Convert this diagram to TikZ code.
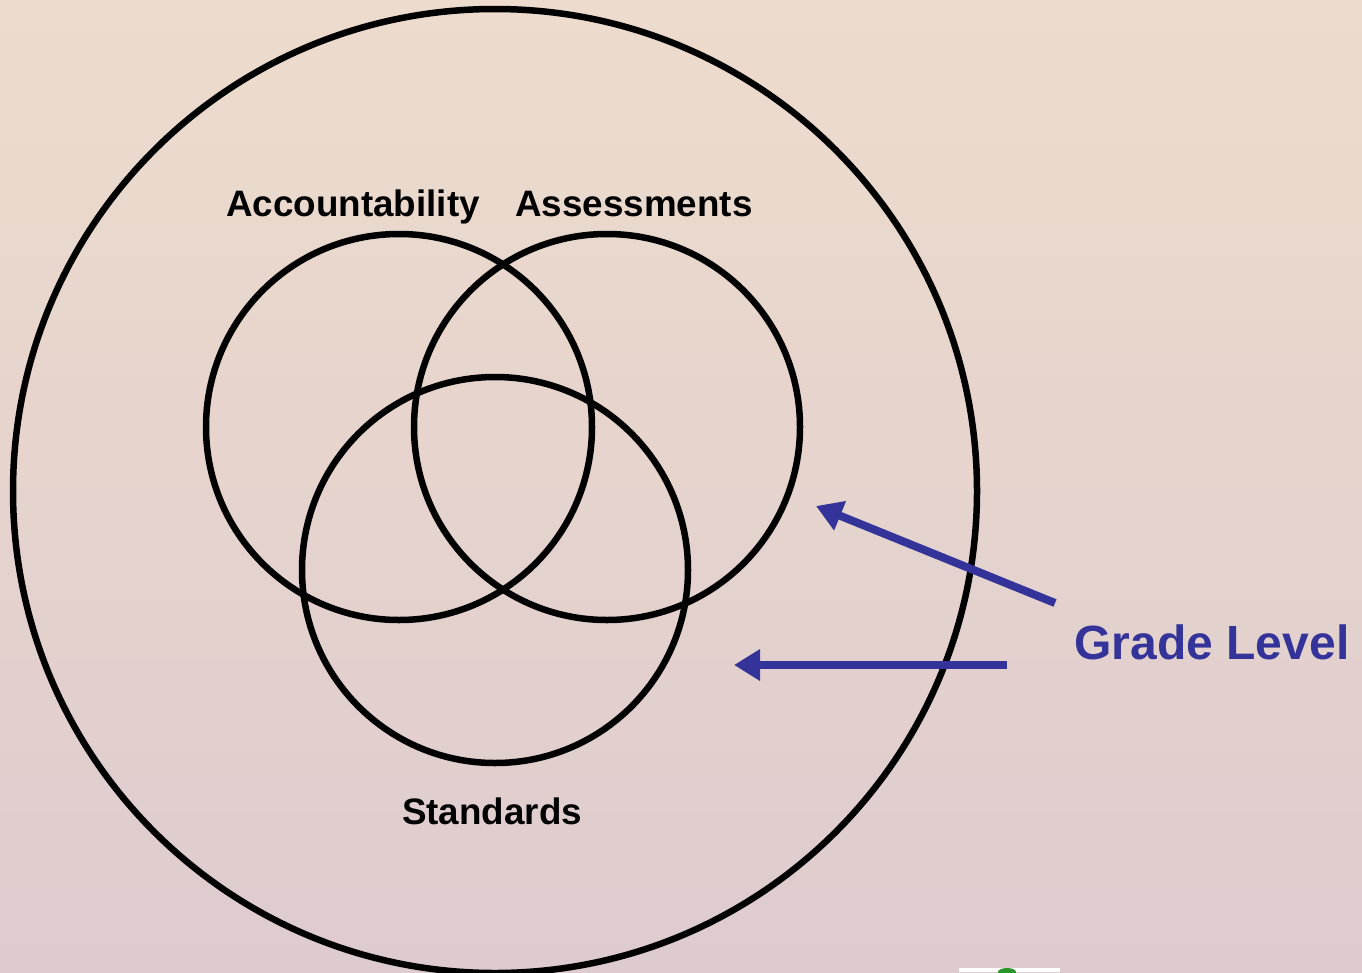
\documentclass[tikz,border=0pt]{standalone}
\usepackage{fontspec}
\setmainfont{Liberation Sans}
\usetikzlibrary{arrows.meta}
\definecolor{bgtop}{RGB}{237,220,205}
\definecolor{bgbot}{RGB}{222,203,206}
\definecolor{arrowblue}{RGB}{51,51,153}
\definecolor{logogreen}{RGB}{40,150,40}
\tikzset{
  ring/.style={draw=black,line width=6.5pt,circle,inner sep=0pt,minimum size=#1},
  label/.style={font=\bfseries\fontsize{36.8}{40}\selectfont,anchor=base,inner sep=0pt},
  bigtext/.style={font=\bfseries\fontsize{48}{52}\selectfont,anchor=base,inner sep=0pt,text=arrowblue},
  pointer/.style={draw=arrowblue,line width=8pt,-{Triangle[length=26pt,width=30pt]}}
}
\begin{document}
\begin{tikzpicture}[x=1pt,y=-1pt]
\useasboundingbox (0,0) rectangle (1362,972);
\shade[top color=bgtop,bottom color=bgbot] (0,0) rectangle (1362,972);
% small cut-off logo at bottom edge
\fill[white] (959,968) rectangle (1060,972);
\fill[logogreen] (1007,972) ellipse [x radius=9pt,y radius=4pt];
\node[ring=964pt] (outer) at (495,491) {};
\node[ring=386pt] (acc) at (399,427) {};
\node[ring=386pt] (ass) at (607,427) {};
\node[ring=386pt] (std) at (495,570) {};
\node[label] (accl) at (353,216) {Accountability};
\node[label] (assl) at (634,216) {Assessments};
\node[label] (stdl) at (492,824) {Standards};
\node[bigtext] (grade) at (1212,659) {Grade Level};
\coordinate (a1s) at (1055,603);
\coordinate (a1e) at (816,506);
\coordinate (a2s) at (1007,665);
\coordinate (a2e) at (734,665);
\draw[pointer] (a1s) -- (a1e);
\draw[pointer] (a2s) -- (a2e);
\end{tikzpicture}
\end{document}
